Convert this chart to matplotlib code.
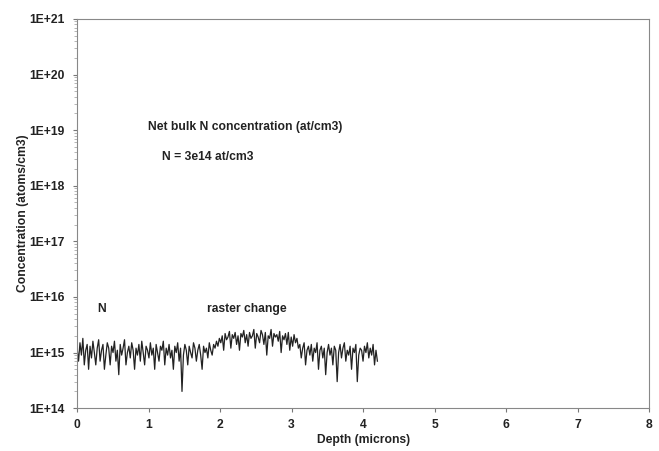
import numpy as np
import matplotlib
matplotlib.use("Agg")
import matplotlib.pyplot as plt
from matplotlib.ticker import FuncFormatter, LogLocator, NullFormatter

# Concentration values in units of 1e14 atoms/cm3, read approx. from the picture
seg_bulk = [12, 7, 15, 9, 18, 6, 11, 14, 5, 13, 8, 16, 10, 6, 12, 17, 7, 11, 14, 5,
            9, 15, 12, 6, 13, 10, 16, 7, 11, 4, 14, 9, 12, 17, 6, 10, 13, 8, 15, 11,
            5, 12, 9, 14, 7, 16, 10, 6, 13, 11, 8, 15, 9, 12, 5, 14, 10, 7, 13, 11,
            16, 6, 12, 9, 14, 8, 11, 5, 13, 10, 15, 7, 12, 2, 9, 14, 11, 6, 13, 10,
            8, 15, 12, 7, 11, 14, 9, 5, 13, 10, 12, 8, 15, 11, 9, 14, 12, 16, 13, 18]
seg_raster = [15, 20, 11, 22, 17, 19, 24, 12, 21, 18, 23, 14, 20, 11, 22, 19, 25, 15, 21, 13,
              23, 18, 20, 26, 12, 22, 19, 15, 25, 21, 14, 23, 9, 20, 18, 26, 13, 22, 19, 21,
              16, 24, 10, 20, 17, 22, 14, 23, 11, 19, 13, 21, 15, 18, 12]
seg_tail = [14, 8, 12, 15, 6, 11, 13, 9, 14, 7, 12, 10, 15, 5, 11, 13, 8, 12, 4, 10,
            14, 9, 12, 6, 13, 11, 3, 10, 14, 8, 12, 15, 7, 11, 9, 13, 5, 12, 10, 14,
            3, 9, 12, 11, 7, 13, 10, 15, 8, 12, 9, 14, 6, 11, 7]

conc = np.array(seg_bulk + seg_raster + seg_tail, dtype=float) * 1e14
depth = np.linspace(0, 4.2, len(conc))

x_ticks = [0, 1, 2, 3, 4, 5, 6, 7, 8]

fs = 8.7
fam = ["Liberation Sans", "DejaVu Sans"]
fig = plt.figure(figsize=(6.59, 4.51), dpi=100)
ax = fig.add_axes([0.117, 0.095, 0.868, 0.863])
ax.plot(depth, conc, color="#222222", linewidth=0.9)
ax.set_yscale("log")
ax.set_ylim(1e14, 1e21)
ax.set_xlim(0, 8)
ax.set_xticks(x_ticks)
ax.yaxis.set_major_locator(LogLocator(base=10, numticks=20))
ax.yaxis.set_minor_locator(LogLocator(base=10, subs=np.arange(2, 10), numticks=100))
ax.yaxis.set_minor_formatter(NullFormatter())
ax.yaxis.set_major_formatter(FuncFormatter(lambda v, p: "1E+%d" % round(np.log10(v))))

fp = dict(fontsize=fs, fontweight="bold", family=fam, color="#222222")
for lab in ax.get_xticklabels() + ax.get_yticklabels():
    lab.set_fontsize(fs)
    lab.set_fontweight("bold")
    lab.set_family(fam)
    lab.set_color("#222222")
ax.tick_params(axis="both", which="major", length=3, width=0.8, colors="#777777", labelcolor="#222222")
ax.tick_params(axis="y", which="major", pad=6)
ax.tick_params(axis="x", which="major", pad=5)
ax.tick_params(axis="y", which="minor", length=2, width=0.5, colors="#999999")
for s in ax.spines.values():
    s.set_color("#888888")
    s.set_linewidth(0.8)

ax.set_xlabel("Depth (microns)", **fp)
ax.set_ylabel("Concentration (atoms/cm3)", **fp)
ax.xaxis.set_label_coords(0.5, -0.066)
ax.yaxis.set_label_coords(-0.084, 0.5)

ax.text(0.99, 10**19.05, "Net bulk N concentration (at/cm3)", **fp, va="center")
ax.text(1.19, 10**18.52, "N = 3e14 at/cm3", **fp, va="center")
ax.text(0.28, 10**15.78, "N", **fp, va="center")
ax.text(1.82, 10**15.78, "raster change", **fp, va="center")

fig.savefig("out.png", dpi=100)
